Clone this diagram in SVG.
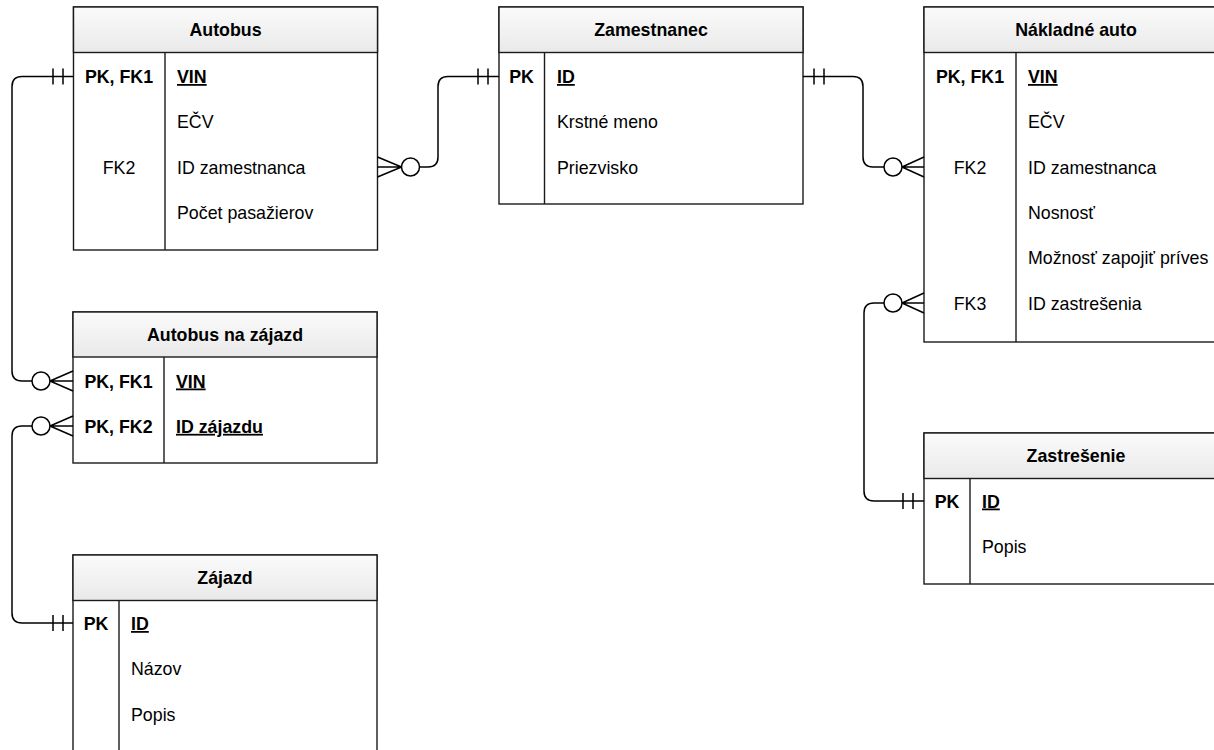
<svg xmlns="http://www.w3.org/2000/svg" width="1214" height="750" viewBox="0 0 1214 750">
<defs>
<linearGradient id="hg" x1="0" y1="0" x2="0" y2="1">
<stop offset="0" stop-color="#fbfbfb"/>
<stop offset="1" stop-color="#e9e9e9"/>
</linearGradient>
</defs>
<style>
.box{fill:#fff;stroke:#1a1a1a;stroke-width:1.4}
.hdr{fill:url(#hg);stroke:#1a1a1a;stroke-width:1.4}
.ln{stroke:#1a1a1a;stroke-width:1.4;fill:none}
text{font-family:"Liberation Sans",Arial,Helvetica,sans-serif;font-size:17.8px;fill:#000}
.t{font-weight:bold;text-anchor:middle}
.k{text-anchor:middle}
.kb{text-anchor:middle;font-weight:bold}
.pk{font-weight:bold;text-decoration:underline}
.c{stroke:#000;stroke-width:1.5;fill:none}
.o{stroke:#000;stroke-width:1.5;fill:#fff}
</style>
<rect width="1214" height="750" fill="#fff"/>

<g id="autobus">
<rect class="box" x="73.5" y="7" width="304" height="243"/>
<rect class="hdr" x="73.5" y="7" width="304" height="45.5"/>
<line class="ln" x1="165" y1="52.5" x2="165" y2="250"/>
<text class="t" x="225.5" y="36">Autobus</text>
<text class="kb" x="119" y="83">PK, FK1</text>
<text class="pk" x="177" y="83">VIN</text>
<text x="177" y="128.3">EČV</text>
<text class="k" x="119" y="173.6">FK2</text>
<text x="177" y="173.6">ID zamestnanca</text>
<text x="177" y="218.9">Počet pasažierov</text>
</g>

<g id="zamestnanec">
<rect class="box" x="499" y="7" width="304" height="197"/>
<rect class="hdr" x="499" y="7" width="304" height="45.5"/>
<line class="ln" x1="544.5" y1="52.5" x2="544.5" y2="204"/>
<text class="t" x="651" y="36">Zamestnanec</text>
<text class="kb" x="521.5" y="83">PK</text>
<text class="pk" x="557" y="83">ID</text>
<text x="557" y="128.3">Krstné meno</text>
<text x="557" y="173.6">Priezvisko</text>
</g>

<g id="nakladne-auto">
<rect class="box" x="924" y="7" width="304" height="335"/>
<rect class="hdr" x="924" y="7" width="304" height="45.5"/>
<line class="ln" x1="1016" y1="52.5" x2="1016" y2="342"/>
<text class="t" x="1076" y="36">Nákladné auto</text>
<text class="kb" x="970" y="83">PK, FK1</text>
<text class="pk" x="1028" y="83">VIN</text>
<text x="1028" y="128.3">EČV</text>
<text class="k" x="970" y="173.6">FK2</text>
<text x="1028" y="173.6">ID zamestnanca</text>
<text x="1028" y="218.9">Nosnosť</text>
<text x="1028" y="264.2">Možnosť zapojiť príves</text>
<text class="k" x="970" y="309.5">FK3</text>
<text x="1028" y="309.5">ID zastrešenia</text>
</g>

<g id="autobus-na-zajazd">
<rect class="box" x="73" y="312" width="304" height="151"/>
<rect class="hdr" x="73" y="312" width="304" height="45"/>
<line class="ln" x1="164" y1="357" x2="164" y2="463"/>
<text class="t" x="225" y="341">Autobus na zájazd</text>
<text class="kb" x="118.5" y="387.5">PK, FK1</text>
<text class="pk" x="176" y="387.5">VIN</text>
<text class="kb" x="118.5" y="432.8">PK, FK2</text>
<text class="pk" x="176" y="432.8">ID zájazdu</text>
</g>

<g id="zajazd">
<rect class="box" x="73" y="555" width="304" height="215"/>
<rect class="hdr" x="73" y="555" width="304" height="45.5"/>
<line class="ln" x1="119" y1="600.5" x2="119" y2="770"/>
<text class="t" x="225" y="584">Zájazd</text>
<text class="kb" x="96" y="630">PK</text>
<text class="pk" x="131" y="630">ID</text>
<text x="131" y="675.3">Názov</text>
<text x="131" y="720.6">Popis</text>
</g>

<g id="zastresenie">
<rect class="box" x="924" y="433" width="304" height="151"/>
<rect class="hdr" x="924" y="433" width="304" height="45.5"/>
<line class="ln" x1="970" y1="478.5" x2="970" y2="584"/>
<text class="t" x="1076" y="462">Zastrešenie</text>
<text class="kb" x="947" y="507.5">PK</text>
<text class="pk" x="982" y="507.5">ID</text>
<text x="982" y="552.8">Popis</text>
</g>

<g id="connectors">
<path class="c" d="M73.5 76.5 H22 Q12 76.5 12 86.5 V371 Q12 381 22 381 H32"/>
<path class="c" d="M53 68.5 V84.5 M63 68.5 V84.5"/>
<circle class="o" cx="41" cy="381" r="9"/>
<path class="c" d="M50 381 L73 371 M50 381 H73 M50 381 L73 391"/>

<path class="c" d="M73 623 H22 Q12 623 12 613 V436 Q12 426 22 426 H32"/>
<path class="c" d="M53 615 V631 M63 615 V631"/>
<circle class="o" cx="41" cy="426" r="9"/>
<path class="c" d="M50 426 L73 416 M50 426 H73 M50 426 L73 436"/>

<path class="c" d="M499 76.5 H448 Q438 76.5 438 86.5 V157 Q438 167 428 167 H420"/>
<path class="c" d="M478 68.5 V84.5 M488 68.5 V84.5"/>
<circle class="o" cx="410.5" cy="167" r="9"/>
<path class="c" d="M401.5 167 L377.5 157 M401.5 167 H377.5 M401.5 167 L377.5 177"/>

<path class="c" d="M803 76.5 H853 Q863 76.5 863 86.5 V157 Q863 167 873 167 H884"/>
<path class="c" d="M814 68.5 V84.5 M824 68.5 V84.5"/>
<circle class="o" cx="893" cy="167" r="9"/>
<path class="c" d="M902 167 L924 157 M902 167 H924 M902 167 L924 177"/>

<path class="c" d="M924 501 H874 Q864 501 864 491 V313 Q864 303 874 303 H884"/>
<path class="c" d="M903 493 V509 M913 493 V509"/>
<circle class="o" cx="893" cy="303" r="9"/>
<path class="c" d="M902 303 L924 293 M902 303 H924 M902 303 L924 313"/>
</g>
</svg>
